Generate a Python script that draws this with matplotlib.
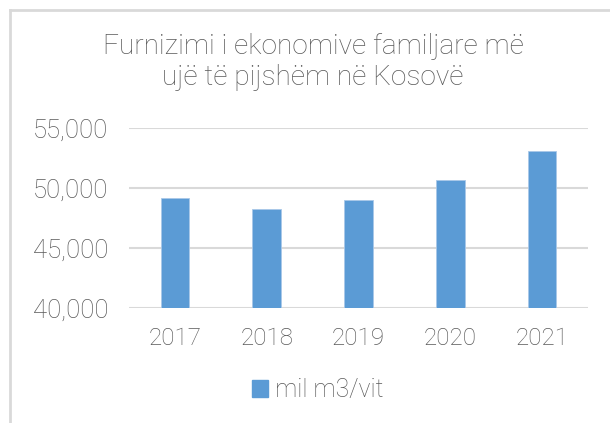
import matplotlib
matplotlib.use("Agg")
import matplotlib.pyplot as plt
from matplotlib.lines import Line2D
from matplotlib.patches import Patch
from matplotlib.ticker import FuncFormatter

years = ["2017", "2018", "2019", "2020", "2021"]
supply = [49170, 48280, 48980, 50670, 53110]
series_name = "mil m3/vit"
title = "Furnizimi i ekonomive familjare më\nujë të pijshëm në Kosovë"

W, H = 610, 423
plt.rcParams['font.family'] = ['Roboto', 'DejaVu Sans']
text_col = "#595959"
bar_col = "#5b9bd5"
grid_col = "#d9d9d9"

fig = plt.figure(figsize=(W / 100, H / 100), dpi=100)
ax = fig.add_axes([129 / W, 1 - 308 / H, (588 - 129) / W, (308 - 128) / H])

x = range(len(years))
ax.bar(x, supply, width=0.31, color=bar_col, edgecolor="#a9c8e8", linewidth=0.6, zorder=3)
ax.set_xlim(-0.5, len(years) - 0.5)
ax.set_ylim(40000, 55000)
ax.set_yticks([40000, 45000, 50000, 55000])
ax.yaxis.set_major_formatter(FuncFormatter(lambda v, p: f"{v:,.0f}"))
ax.set_xticks(list(x))
ax.set_xticklabels(years)
ax.grid(axis="y", color=grid_col, linewidth=1.5, zorder=0)
for s in ax.spines.values():
    s.set_visible(False)
ax.tick_params(length=0, labelsize=17.5, colors=text_col, pad=14)
ax.tick_params(axis="y", labelsize=18.5, pad=15)
for lab in ax.get_xticklabels() + ax.get_yticklabels():
    lab.set_fontweight("light")

fig.text(313 / W, 1 - 62 / H, title, ha="center", va="center", fontsize=20.2,
         color=text_col, fontweight="light", linespacing=1.2)

fig.legend(handles=[Patch(facecolor=bar_col, edgecolor=bar_col)], labels=[series_name],
           loc="center", bbox_to_anchor=(318 / W, 1 - 390 / H), frameon=False,
           handlelength=0.65, handleheight=0.65, handletextpad=0.3,
           prop={"size": 17.8, "weight": "light"}, labelcolor=text_col)

# chart frame (left and top edges visible)
fig.add_artist(Line2D([10 / W, 10 / W], [0, 1 - 10 / H], transform=fig.transFigure,
                      color=grid_col, linewidth=2))
fig.add_artist(Line2D([10 / W, 1], [1 - 10 / H, 1 - 10 / H], transform=fig.transFigure,
                      color=grid_col, linewidth=2))

fig.savefig("out.png", dpi=100)
